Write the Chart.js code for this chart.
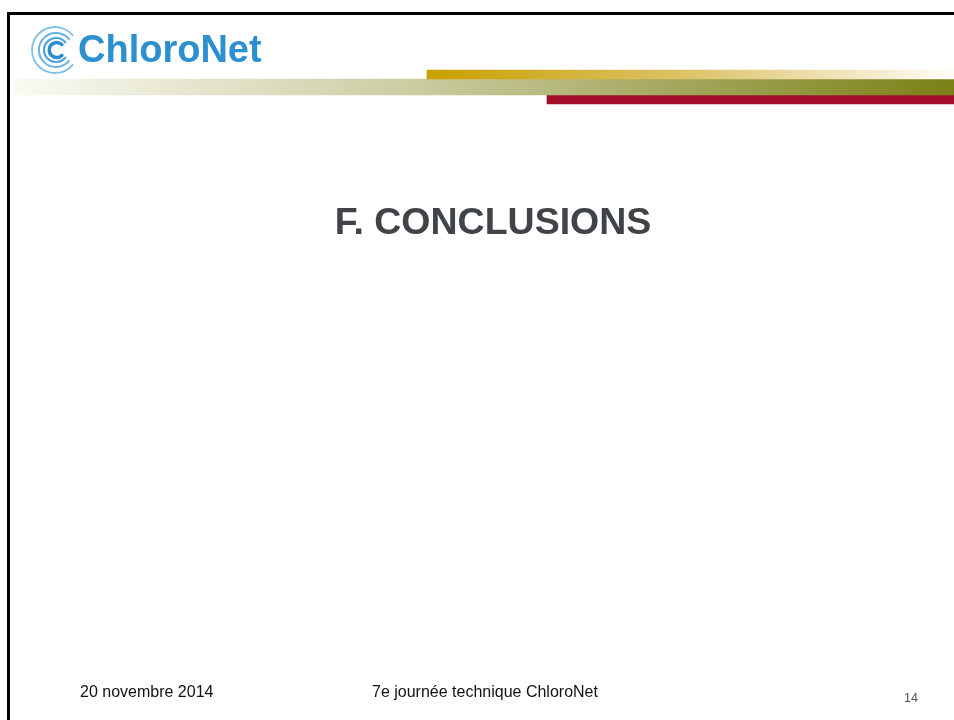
<!DOCTYPE html>
<html>
<head>
<meta charset="utf-8">
<script src="https://cdn.jsdelivr.net/npm/chart.js@4"></script>
<style>
  html, body { margin: 0; padding: 0; background: #fff; width: 954px; height: 720px; overflow: hidden; }
  body { font-family: "Liberation Sans", Arial, sans-serif; }
  #slide { position: relative; width: 954px; height: 720px; }
  #bands { position: absolute; left: 0; top: 0; }
  .frame { position: absolute; left: 7px; top: 12px; right: 0; bottom: 0; border-left: 3px solid #000; border-top: 3px solid #000; }
  .t { position: absolute; white-space: nowrap; }
  #logoText { left: 78px; top: 30px; font-size: 38px; line-height: 38px; font-weight: bold; color: #2b8fd0; }
  #title { left: 0; width: 986px; text-align: center; top: 203px; font-size: 37.5px; line-height: 37px; font-weight: bold; color: #404347; }
  #date { left: 80px; top: 684px; font-size: 16px; line-height: 16px; color: #111; }
  #event { left: 372px; top: 684px; font-size: 16px; line-height: 16px; color: #111; }
  #page { left: 904px; top: 692px; font-size: 12.5px; line-height: 12.5px; color: #555; }
  #icon { position: absolute; left: 0; top: 0; }
</style>
</head>
<body>
<div id="slide">
  <canvas id="bands" width="954" height="720"></canvas>
  <div class="frame"></div>
  <svg id="icon" width="100" height="90">
    <g fill="none" stroke-linecap="round">
      <path d="M 61.9 44.6 A 7.5 7.5 0 1 0 61.9 55.4" stroke="#2a8fd0" stroke-width="3.5"/>
      <path d="M 65.2 42.3 A 12 12 0 1 0 65.2 57.7" stroke="#4da4dc" stroke-width="2.2"/>
      <path d="M 69.0 39.1 A 17 17 0 1 0 69.0 60.9" stroke="#66b3e2" stroke-width="2"/>
      <path d="M 72.6 35.2 A 23 23 0 1 0 72.6 64.8" stroke="#7fc0e8" stroke-width="1.8"/>
    </g>
  </svg>
  <div class="t" id="logoText">ChloroNet</div>
  <div class="t" id="title">F. CONCLUSIONS</div>
  <div class="t" id="date">20 novembre 2014</div>
  <div class="t" id="event">7e journée technique ChloroNet</div>
  <div class="t" id="page">14</div>
</div>
<script>
// header bands (pixel extents on the slide)
const bandNames = ['or', 'olive', 'rouge'];
const bandFrom = [427, 15, 547];
const bandTo = [954, 954, 954];
const bandMid = [74.5, 87, 99.5];

const bandColors = [
  [[0, '#c9a000'], [0.5, '#ddc36a'], [1, '#fffdf8']],
  [[0, '#fafaf3'], [0.41, '#cdcea4'], [1, '#7a8116']],
  [[0, '#a30f2a'], [1, '#a30f2a']]
];
const bandThickness = [9, 16, 9];

function gradFor(i) {
  return function (ctx) {
    const chart = ctx.chart;
    const xs = chart.scales.x;
    const fallback = bandColors[i][0][1];
    if (!xs || !chart.chartArea) return fallback;
    const x0 = xs.getPixelForValue(bandFrom[i]);
    const x1 = xs.getPixelForValue(bandTo[i]);
    if (!isFinite(x0) || !isFinite(x1) || x0 === x1) return fallback;
    const g = chart.ctx.createLinearGradient(x0, 0, x1, 0);
    bandColors[i].forEach(s => g.addColorStop(s[0], s[1]));
    return g;
  };
}

const datasets = bandNames.map((name, i) => ({
  label: name,
  data: [{ x: [bandFrom[i], bandTo[i]], y: bandMid[i] }],
  backgroundColor: gradFor(i),
  borderWidth: 0,
  barThickness: bandThickness[i],
  grouped: false
}));

new Chart(document.getElementById('bands'), {
  type: 'bar',
  data: { datasets: datasets },
  options: {
    indexAxis: 'y',
    responsive: false,
    animation: false,
    layout: { padding: 0 },
    scales: {
      x: { type: 'linear', min: 0, max: 954, offset: false, display: false },
      y: { type: 'linear', min: 0, max: 720, reverse: true, offset: false, display: false }
    },
    plugins: { legend: { display: false }, tooltip: { enabled: false } }
  }
});
</script>
</body>
</html>
